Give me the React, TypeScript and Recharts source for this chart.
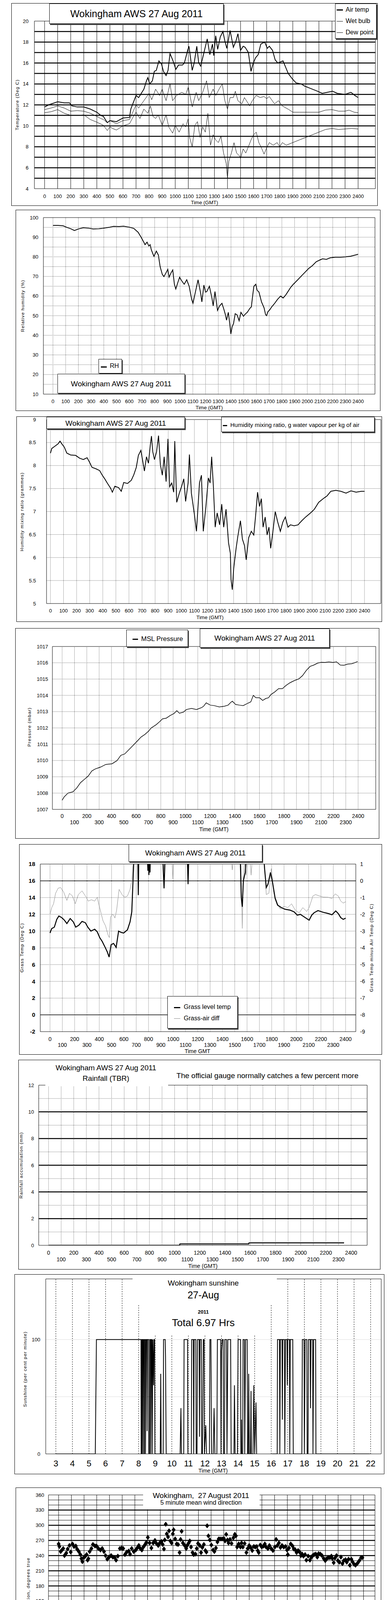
import React from "react";
import { ComposedChart, Line, Scatter, XAxis, YAxis, ReferenceLine } from "recharts";

const NARROW = "'Liberation Sans Narrow', 'Arial Narrow', sans-serif";
const SANS = "'Liberation Sans', Arial, Helvetica, sans-serif";

// ---------- shared ticks / grid values ----------
const hundreds = [0, 100, 200, 300, 400, 500, 600, 700, 800, 900, 1000, 1100, 1200, 1300, 1400, 1500, 1600, 1700, 1800, 1900, 2000, 2100, 2200, 2300, 2400];
const hours24 = [0, 1, 2, 3, 4, 5, 6, 7, 8, 9, 10, 11, 12, 13, 14, 15, 16, 17, 18, 19, 20, 21, 22, 23, 24];
const hours23 = [0, 1, 2, 3, 4, 5, 6, 7, 8, 9, 10, 11, 12, 13, 14, 15, 16, 17, 18, 19, 20, 21, 22, 23];
const sunHours = [3, 4, 5, 6, 7, 8, 9, 10, 11, 12, 13, 14, 15, 16, 17, 18, 19, 20, 21, 22];

const tempTicks = [4, 6, 8, 10, 12, 14, 16, 18, 20];
const tempGrid = [5, 6, 7, 8, 9, 10, 11, 12, 13, 14, 15, 16, 17, 18, 19];
const rhTicks = [10, 20, 30, 40, 50, 60, 70, 80, 90, 100];
const rhGrid = [15, 20, 25, 30, 35, 40, 45, 50, 55, 60, 65, 70, 75, 80, 85, 90, 95];
const mixTicks = [5, 5.5, 6, 6.5, 7, 7.5, 8, 8.5, 9];
const mixGrid = [5.5, 6, 6.5, 7, 7.5, 8, 8.5];
const presTicks = [1007, 1008, 1009, 1010, 1011, 1012, 1013, 1014, 1015, 1016, 1017];
const presGrid = [1008, 1009, 1010, 1011, 1012, 1013, 1014, 1015, 1016];
const grassTicks = [-2, 0, 2, 4, 6, 8, 10, 12, 14, 16, 18];
const grassDotted = [2, 4, 6, 8, 10, 12, 14];
const grassSolid = [0, 16];
const diffTicks = [-9, -8, -7, -6, -5, -4, -3, -2, -1, 0, 1];
const rainTicks = [0, 2, 4, 6, 8, 10, 12];
const rainThick = [2, 4, 6, 8, 10];
const rainDotted = [1, 3, 5, 7, 9, 11];
const sunTicks = [0, 50, 100];
const dirTicks = [0, 30, 60, 90, 120, 150, 180, 210, 240, 270, 300, 330, 360];
const dirThick = [30, 60, 90, 120, 150, 180, 210, 240, 270, 300, 330];
const dirThin = [10, 20, 40, 50, 70, 80, 100, 110, 130, 140, 160, 170, 190, 200, 220, 230, 250, 260, 280, 290, 310, 320, 340, 350];
const speedTicks = [0, 10, 20, 30, 40, 50];
const speedGrid = [5, 10, 15, 20, 25, 30, 35, 40, 45];

// ---------- data (time as hhmm-like hundreds, or hours) ----------
const airTemp = [[0, 11.8], [30, 12.0], [100, 12.3], [150, 12.2], [190, 12.2], [210, 11.9], [250, 11.8], [300, 11.8], [350, 11.6], [400, 11.3], [430, 11.0], [450, 10.9], [480, 10.3], [500, 10.5], [550, 10.4], [600, 10.75], [650, 10.8], [660, 11.6], [700, 12.9], [720, 12.7], [760, 13.5], [780, 14.3], [790, 14.6], [805, 14.0], [825, 14.3], [840, 15.2], [855, 15.3], [875, 16.2], [895, 15.9], [910, 15.2], [930, 14.8], [945, 15.3], [960, 16.9], [980, 16.3], [1005, 15.4], [1025, 15.8], [1055, 15.8], [1070, 16.0], [1095, 17.2], [1105, 17.6], [1130, 15.3], [1145, 16.0], [1165, 17.6], [1180, 16.0], [1195, 15.7], [1220, 17.0], [1245, 18.3], [1265, 16.8], [1285, 17.8], [1295, 16.7], [1310, 18.6], [1325, 17.3], [1345, 18.5], [1365, 19.0], [1380, 18.1], [1395, 17.4], [1420, 19.1], [1445, 17.5], [1465, 18.1], [1480, 18.8], [1500, 17.2], [1520, 17.6], [1535, 17.5], [1560, 17.0], [1580, 15.2], [1595, 15.9], [1615, 16.5], [1635, 16.8], [1655, 17.8], [1685, 18.0], [1705, 17.4], [1720, 17.6], [1745, 17.2], [1765, 16.3], [1785, 16.0], [1825, 16.2], [1865, 15.0], [1895, 14.5], [1925, 14.1], [1965, 14.0], [1990, 13.8], [2030, 13.6], [2090, 13.3], [2125, 13.1], [2165, 13.2], [2205, 13.3], [2240, 13.1], [2300, 13.0], [2345, 13.2], [2375, 12.9], [2400, 12.7]];
const wetBulb = [[0, 11.55], [50, 11.7], [100, 11.9], [150, 11.7], [200, 11.4], [250, 11.45], [300, 11.4], [350, 11.2], [400, 10.9], [430, 10.7], [450, 10.6], [480, 10.3], [500, 10.5], [550, 10.2], [600, 10.5], [650, 10.6], [700, 12.0], [720, 11.7], [760, 12.4], [800, 13.1], [820, 12.5], [850, 13.5], [880, 12.9], [900, 13.5], [930, 12.4], [960, 14.0], [980, 12.4], [1010, 12.9], [1050, 13.2], [1080, 13.0], [1100, 13.7], [1130, 11.8], [1160, 13.2], [1180, 12.4], [1210, 13.2], [1240, 14.3], [1260, 12.7], [1290, 13.5], [1310, 12.9], [1340, 13.6], [1360, 14.0], [1380, 12.4], [1400, 11.6], [1420, 12.7], [1445, 12.7], [1460, 13.3], [1480, 12.4], [1510, 12.1], [1530, 12.7], [1570, 11.9], [1590, 12.4], [1620, 12.9], [1650, 12.7], [1680, 12.8], [1700, 12.6], [1720, 12.8], [1760, 12.1], [1790, 12.4], [1820, 11.9], [1870, 11.55], [1900, 11.3], [1950, 11.3], [2000, 11.3], [2050, 11.3], [2100, 11.3], [2150, 11.5], [2200, 11.55], [2250, 11.4], [2300, 11.4], [2330, 11.5], [2370, 11.3], [2400, 11.25]];
const dewPoint = [[0, 11.25], [50, 11.35], [100, 11.55], [150, 11.2], [200, 11.0], [250, 11.0], [300, 11.05], [350, 10.6], [400, 10.35], [450, 10.05], [480, 9.55], [500, 9.9], [520, 9.75], [550, 9.6], [600, 10.0], [650, 10.2], [680, 10.9], [700, 11.3], [730, 10.7], [760, 11.6], [790, 11.2], [810, 11.9], [830, 10.9], [850, 10.7], [870, 11.05], [900, 10.05], [930, 11.05], [950, 9.9], [980, 9.3], [1000, 10.05], [1030, 9.4], [1060, 10.2], [1080, 9.9], [1100, 10.7], [1110, 8.9], [1130, 8.0], [1150, 10.05], [1170, 10.4], [1190, 8.9], [1210, 9.9], [1230, 9.4], [1250, 11.2], [1270, 8.15], [1290, 9.15], [1310, 8.65], [1330, 8.4], [1350, 9.0], [1370, 7.4], [1390, 6.4], [1400, 5.0], [1410, 6.6], [1430, 7.4], [1450, 8.4], [1470, 7.4], [1490, 7.15], [1500, 6.9], [1520, 7.8], [1540, 7.4], [1560, 8.0], [1580, 8.65], [1600, 9.15], [1620, 9.4], [1640, 8.4], [1660, 7.9], [1680, 7.3], [1700, 7.9], [1720, 8.4], [1750, 8.15], [1780, 8.4], [1800, 8.0], [1820, 8.4], [1850, 8.15], [1900, 8.4], [1950, 8.65], [2000, 8.9], [2050, 9.15], [2100, 9.4], [2150, 9.65], [2200, 9.75], [2250, 9.65], [2300, 9.7], [2350, 9.75], [2400, 9.7]];

const relHum = [[0, 96], [40, 96], [80, 95.8], [110, 95], [140, 94.3], [169, 93.4], [200, 94.2], [238, 94.8], [280, 94.6], [317, 94.2], [360, 94.3], [400, 94.6], [440, 95], [476, 95.5], [520, 95.4], [555, 95.6], [600, 95.1], [635, 94.5], [670, 92.5], [694, 89.9], [714, 87.5], [724, 86.2], [740, 87.5], [754, 85.5], [764, 86.2], [774, 83.5], [794, 80.2], [813, 82.9], [829, 80.9], [843, 74.9], [860, 71], [873, 69.9], [890, 72], [903, 73.6], [913, 69.6], [930, 72], [942, 73.3], [955, 66], [966, 63.6], [980, 66.5], [996, 69.6], [1010, 68], [1032, 66], [1052, 68.3], [1071, 65], [1091, 58.3], [1101, 56.3], [1121, 62.3], [1141, 68.3], [1161, 61.6], [1171, 57], [1187, 65.6], [1200, 62], [1210, 62.3], [1230, 65], [1250, 59], [1260, 55], [1274, 62.3], [1294, 52.7], [1310, 55], [1329, 56.3], [1345, 53], [1355, 50.7], [1365, 47.7], [1379, 51.7], [1390, 46], [1399, 40.7], [1409, 44.4], [1420, 46], [1433, 51], [1448, 50.4], [1464, 47.4], [1478, 51.7], [1498, 49.7], [1515, 51], [1528, 51.7], [1548, 53.7], [1560, 54.5], [1570, 60], [1580, 65], [1595, 66], [1605, 63], [1620, 62], [1640, 57], [1660, 54], [1672, 50.5], [1680, 50], [1690, 52], [1705, 53], [1720, 54.5], [1740, 56], [1766, 58.3], [1790, 60], [1810, 59], [1830, 60.5], [1850, 62.5], [1870, 64.5], [1890, 66], [1925, 68.3], [1950, 70], [1980, 72], [2010, 74], [2040, 75.5], [2070, 77.5], [2093, 78.2], [2120, 79], [2150, 78.7], [2180, 79.5], [2220, 79.8], [2260, 79.8], [2300, 80], [2340, 80.3], [2370, 80.8], [2400, 81.3]];

const mixRatio = [[0, 8.27], [10, 8.37], [29, 8.41], [58, 8.47], [73, 8.53], [87, 8.47], [106, 8.4], [125, 8.27], [154, 8.23], [193, 8.22], [222, 8.16], [251, 8.13], [280, 8.17], [299, 8.07], [318, 7.96], [347, 7.93], [376, 7.89], [396, 7.79], [415, 7.71], [434, 7.62], [459, 7.51], [473, 7.42], [492, 7.55], [521, 7.52], [541, 7.44], [560, 7.63], [589, 7.61], [618, 7.68], [637, 7.8], [656, 7.96], [672, 8.22], [691, 8.33], [705, 8.1], [718, 7.88], [734, 8.19], [749, 8.05], [763, 8.44], [772, 8.64], [782, 8.3], [795, 8.13], [811, 8.3], [826, 8.65], [840, 8.02], [855, 7.79], [869, 8.19], [884, 7.65], [898, 8.58], [911, 7.54], [927, 7.62], [942, 7.42], [950, 8.53], [965, 7.2], [985, 7.4], [1004, 7.56], [1019, 7.71], [1033, 7.22], [1052, 7.62], [1062, 8.24], [1077, 7.4], [1100, 6.94], [1116, 6.57], [1129, 7.16], [1139, 7.62], [1154, 7.79], [1168, 6.57], [1188, 7.11], [1207, 7.73], [1220, 7.62], [1232, 8.19], [1245, 7.56], [1259, 6.66], [1274, 6.97], [1293, 6.71], [1309, 7.16], [1324, 6.66], [1342, 7.05], [1361, 6.32], [1375, 6.09], [1380, 5.52], [1390, 5.3], [1400, 5.75], [1409, 5.97], [1419, 6.2], [1432, 6.46], [1452, 6.8], [1467, 6.4], [1483, 6.26], [1496, 5.95], [1515, 6.43], [1535, 6.57], [1554, 6.49], [1568, 6.91], [1583, 7.42], [1598, 7.11], [1612, 7.28], [1625, 6.66], [1641, 6.88], [1656, 6.49], [1670, 6.66], [1683, 6.2], [1699, 6.54], [1718, 7.0], [1737, 6.77], [1757, 6.57], [1776, 6.77], [1795, 6.88], [1815, 6.66], [1834, 6.71], [1863, 6.69], [1892, 6.71], [1921, 6.8], [1950, 6.88], [1988, 6.97], [2017, 7.05], [2050, 7.2], [2085, 7.28], [2114, 7.34], [2143, 7.44], [2181, 7.46], [2220, 7.44], [2259, 7.4], [2297, 7.45], [2336, 7.42], [2375, 7.44], [2400, 7.44]];

const mslPressure = [[0, 1007.56], [16, 1007.76], [47, 1008.0], [88, 1008.08], [119, 1008.32], [149, 1008.64], [180, 1008.84], [211, 1009.04], [241, 1009.36], [268, 1009.48], [313, 1009.6], [354, 1009.76], [405, 1009.8], [446, 1010.0], [476, 1010.32], [507, 1010.4], [538, 1010.64], [569, 1010.88], [610, 1011.2], [640, 1011.44], [671, 1011.6], [701, 1011.8], [722, 1012.0], [763, 1012.2], [793, 1012.4], [814, 1012.56], [845, 1012.6], [875, 1012.76], [906, 1012.88], [930, 1013.06], [951, 1012.9], [983, 1012.97], [1008, 1013.13], [1049, 1013.2], [1090, 1013.13], [1131, 1013.25], [1147, 1013.33], [1168, 1013.54], [1202, 1013.4], [1233, 1013.37], [1274, 1013.29], [1315, 1013.33], [1346, 1013.4], [1366, 1013.56], [1380, 1013.64], [1407, 1013.44], [1438, 1013.4], [1468, 1013.37], [1499, 1013.49], [1530, 1013.6], [1550, 1014.0], [1571, 1013.85], [1601, 1013.85], [1626, 1013.69], [1652, 1013.81], [1673, 1013.85], [1693, 1014.05], [1724, 1014.21], [1755, 1014.41], [1786, 1014.41], [1816, 1014.61], [1847, 1014.77], [1878, 1014.89], [1919, 1015.01], [1949, 1015.21], [1980, 1015.53], [2011, 1015.78], [2041, 1015.86], [2072, 1015.98], [2102, 1016.03], [2133, 1016.02], [2163, 1016.05], [2194, 1016.02], [2225, 1016.06], [2255, 1015.86], [2286, 1015.85], [2317, 1015.92], [2348, 1015.94], [2378, 1016.02], [2396, 1016.08]];

const grassTemp = [[0, 9.77], [14, 10.3], [35, 10.47], [55, 11.4], [72, 11.8], [96, 11.6], [117, 11.3], [137, 10.9], [164, 11.5], [189, 11.1], [209, 10.47], [234, 10.7], [260, 11.16], [287, 11.0], [307, 10.47], [332, 10.0], [363, 10.23], [383, 9.92], [404, 9.22], [424, 8.76], [445, 8.14], [465, 7.52], [480, 6.9], [496, 8.37], [516, 8.53], [537, 8.06], [557, 10.0], [578, 9.84], [598, 9.77], [629, 10.16], [650, 11.1], [664, 12.3], [676, 16.7], [684, 19.5], [700, 22], [712, 20], [717, 14.3], [722, 20], [740, 23], [780, 24], [790, 19], [795, 17.2], [800, 18.5], [803, 16.7], [807, 18], [812, 17.0], [818, 21], [850, 25], [900, 24], [915, 19], [926, 15.1], [935, 19], [960, 25], [1000, 26], [1050, 25], [1100, 24], [1115, 19], [1121, 15.6], [1127, 19], [1160, 27], [1250, 28], [1350, 27], [1450, 26], [1530, 22], [1545, 18.5], [1553, 14], [1561, 12.9], [1570, 16], [1585, 17], [1600, 20], [1650, 22], [1700, 20], [1735, 19], [1742, 17.5], [1756, 15.2], [1770, 15.6], [1790, 17.0], [1805, 16], [1828, 13.9], [1848, 13.1], [1879, 12.8], [1910, 12.6], [1950, 12.5], [1982, 12.3], [2008, 11.9], [2033, 12.0], [2053, 11.8], [2084, 11.5], [2104, 11.3], [2125, 11.9], [2145, 12.2], [2176, 12.45], [2217, 12.25], [2258, 12.1], [2289, 11.95], [2320, 12.4], [2340, 12.1], [2361, 11.6], [2381, 11.4], [2400, 11.55]];
const grassAirDiff = [[0, -2.0], [14, -1.6], [29, -1.37], [45, -0.75], [66, -0.44], [86, -0.4], [111, -0.67], [137, -1.17], [158, -0.75], [182, -0.9], [205, -1.37], [230, -0.82], [260, -0.6], [287, -0.9], [311, -1.21], [336, -1.13], [363, -1.21], [383, -0.98], [398, -1.45], [414, -1.91], [430, -2.38], [451, -2.69], [471, -3.23], [482, -3.39], [492, -2.14], [512, -1.99], [527, -2.22], [541, -1.75], [561, -0.51], [588, -0.86], [609, -0.98], [629, -0.9], [650, -0.51], [664, 0.03], [676, 1.2], [700, 2.5], [750, 3], [795, 1.5], [803, 0.65], [812, 1.8], [850, 3], [910, 1.5], [922, 0.34], [930, 1.5], [970, 2.5], [990, 1.2], [998, 0.11], [1006, 1.5], [1050, 3], [1110, 1.5], [1121, 0.03], [1130, 1.5], [1200, 4], [1300, 4], [1400, 3], [1470, 1.5], [1480, 0.65], [1490, 1.5], [1530, 2], [1550, 1.2], [1561, -2.84], [1570, 0.2], [1580, 1.2], [1592, 0.34], [1610, 1.5], [1625, 1.2], [1633, 0.34], [1645, 1.5], [1700, 2], [1740, 1.2], [1756, -0.82], [1777, -0.74], [1797, 0.73], [1818, -0.75], [1848, -1.37], [1869, -1.68], [1900, -1.52], [1930, -1.6], [1961, -1.37], [1992, -1.75], [2023, -1.91], [2053, -1.6], [2084, -1.83], [2104, -1.6], [2135, -0.9], [2156, -0.82], [2186, -0.9], [2217, -0.97], [2258, -0.98], [2289, -1.05], [2315, -0.78], [2340, -0.9], [2361, -1.21], [2381, -1.33], [2400, -1.25]];

const rainfall = [[0, 0], [1040, 0], [1042, 0.1], [1588, 0.1], [1590, 0.18], [2344, 0.18]];

const sunshine = [[3, 0], [5.38, 0], [5.45, 100], [8.14, 100], [8.15, 0], [8.18, 0], [8.19, 100], [8.22, 100], [8.23, 0], [8.26, 100], [8.3, 100], [8.31, 0], [8.34, 0], [8.35, 100], [8.4, 100], [8.41, 0], [8.45, 100], [8.5, 100], [8.51, 20], [8.53, 100], [8.6, 100], [8.61, 0], [8.66, 0], [8.67, 100], [8.72, 100], [8.73, 0], [8.77, 100], [8.8, 100], [8.82, 0], [8.85, 100], [8.9, 60], [8.92, 100], [8.96, 100], [8.98, 0], [9.3, 0], [9.33, 70], [9.36, 0], [9.48, 0], [9.5, 100], [9.6, 100], [9.62, 85], [9.66, 0], [10.5, 0], [10.55, 40], [10.58, 0], [10.72, 0], [10.74, 100], [10.95, 100], [10.97, 0], [11.18, 0], [11.2, 100], [11.3, 100], [11.32, 0], [11.35, 100], [11.45, 100], [11.47, 0], [11.52, 0], [11.55, 100], [11.65, 100], [11.67, 15], [11.7, 100], [11.78, 100], [11.8, 0], [11.85, 0], [11.9, 100], [11.95, 100], [11.97, 0], [12.05, 25], [12.1, 0], [12.27, 0], [12.3, 100], [12.36, 100], [12.4, 0], [12.5, 0], [12.55, 40], [12.6, 0], [12.72, 0], [12.75, 100], [12.95, 100], [12.97, 0], [13.0, 90], [13.05, 100], [13.1, 100], [13.12, 0], [13.18, 0], [13.2, 100], [13.3, 100], [13.33, 0], [13.38, 100], [13.55, 100], [13.58, 0], [13.75, 0], [13.78, 60], [13.82, 0], [13.96, 0], [14.0, 100], [14.15, 100], [14.17, 0], [14.2, 30], [14.22, 0], [14.28, 0], [14.3, 100], [14.38, 100], [14.4, 0], [14.45, 100], [14.55, 100], [14.57, 0], [14.62, 0], [14.64, 70], [14.68, 0], [14.75, 0], [14.78, 55], [14.8, 0], [14.9, 0], [14.95, 60], [15.0, 0], [15.08, 45], [15.12, 0], [15.14, null], [16.05, 0], [16.36, 0], [16.38, 100], [16.5, 100], [16.52, 0], [16.55, 100], [16.65, 100], [16.67, 30], [16.7, 100], [16.8, 100], [16.82, 0], [16.86, 100], [16.95, 100], [16.97, 60], [17.0, 100], [17.1, 100], [17.12, 0], [17.15, 100], [17.3, 100], [17.33, 0], [17.85, 0], [17.88, 100], [17.98, 100], [18.0, 0], [18.05, 100], [18.15, 100], [18.17, 0], [18.22, 0], [18.25, 100], [18.35, 100], [18.37, 40], [18.4, 100], [18.5, 100], [18.52, 0], [18.56, 100], [18.68, 100], [18.7, 0], [21.95, 0]];

const windDir = [[0.0, 263], [0.06, 258], [0.16, 248], [0.26, 251], [0.36, 254], [0.46, 240], [0.6, 245], [0.71, 253], [0.85, 260], [0.95, 247], [1.09, 263], [1.21, 258], [1.35, 259], [1.45, 253], [1.59, 248], [1.71, 242], [1.79, 234], [1.87, 228], [1.98, 236], [2.1, 239], [2.2, 242], [2.28, 231], [2.34, 234], [2.44, 248], [2.58, 254], [2.7, 262], [2.86, 259], [2.98, 259], [3.13, 254], [3.29, 251], [3.43, 254], [3.57, 248], [3.69, 240], [3.83, 233], [3.97, 237], [4.13, 240], [4.27, 237], [4.42, 236], [4.52, 231], [4.66, 239], [4.82, 254], [4.96, 255], [5.08, 254], [5.22, 242], [5.36, 247], [5.52, 249], [5.62, 243], [5.75, 254], [5.91, 248], [6.07, 251], [6.21, 256], [6.31, 260], [6.43, 254], [6.55, 251], [6.67, 257], [6.81, 262], [6.9, 266], [7.02, 276], [7.16, 265], [7.3, 255], [7.44, 265], [7.58, 270], [7.7, 264], [7.84, 260], [7.96, 265], [8.1, 268], [8.19, 262], [8.29, 253], [8.35, 271], [8.43, 302], [8.51, 283], [8.61, 277], [8.69, 289], [8.79, 269], [8.89, 265], [8.99, 283], [9.05, 291], [9.17, 273], [9.29, 263], [9.4, 262], [9.52, 246], [9.6, 272], [9.68, 288], [9.78, 265], [9.92, 260], [10.04, 254], [10.12, 260], [10.24, 265], [10.32, 269], [10.42, 257], [10.54, 246], [10.63, 242], [10.77, 243], [10.87, 254], [10.97, 264], [11.11, 260], [11.21, 246], [11.31, 256], [11.43, 262], [11.55, 250], [11.63, 247], [11.69, 299], [11.79, 279], [11.9, 271], [12.02, 261], [12.16, 251], [12.26, 248], [12.38, 255], [12.5, 267], [12.6, 273], [12.72, 273], [12.86, 273], [13.0, 274], [13.1, 269], [13.19, 282], [13.29, 271], [13.37, 265], [13.49, 272], [13.61, 264], [13.75, 275], [13.87, 282], [13.95, 279], [14.05, 257], [14.17, 263], [14.31, 257], [14.4, 265], [14.5, 257], [14.64, 264], [14.78, 246], [14.88, 254], [15.0, 260], [15.14, 255], [15.24, 250], [15.36, 258], [15.48, 257], [15.6, 258], [15.67, 250], [15.75, 246], [15.87, 261], [15.99, 257], [16.13, 259], [16.23, 263], [16.33, 257], [16.47, 254], [16.59, 260], [16.73, 254], [16.87, 250], [17.02, 257], [17.12, 272], [17.22, 260], [17.34, 265], [17.46, 256], [17.58, 260], [17.72, 257], [17.86, 258], [17.98, 251], [18.04, 242], [18.13, 255], [18.27, 263], [18.41, 259], [18.51, 253], [18.61, 252], [18.73, 246], [18.85, 250], [18.97, 247], [19.07, 240], [19.17, 243], [19.27, 239], [19.4, 242], [19.5, 231], [19.64, 239], [19.78, 231], [19.9, 237], [20.0, 240], [20.12, 242], [20.24, 243], [20.36, 237], [20.46, 244], [20.6, 243], [20.73, 240], [20.87, 234], [20.99, 230], [21.11, 234], [21.23, 236], [21.35, 236], [21.47, 239], [21.55, 234], [21.65, 226], [21.75, 235], [21.87, 240], [21.98, 230], [22.1, 227], [22.22, 237], [22.34, 224], [22.44, 230], [22.58, 232], [22.68, 227], [22.82, 233], [22.92, 221], [23.04, 233], [23.13, 228], [23.25, 223], [23.37, 221], [23.53, 225], [23.67, 230], [23.81, 236], [23.91, 236]];

const meanSpeed = [[0, 2.7], [0.19, 3.6], [0.39, 3.7], [0.54, 2.4], [0.77, 3.3], [1.06, 3.8], [1.25, 2.7], [1.54, 3.0], [1.93, 3.3], [2.32, 3.6], [2.61, 4.4], [2.8, 5.5], [2.99, 3.3], [3.28, 3.0], [3.67, 3.3], [3.96, 2.4], [4.25, 3.6], [4.63, 3.4], [5.02, 3.6], [5.31, 4.1], [5.6, 5.8], [5.89, 6.1], [6.18, 5.2], [6.56, 5.2], [6.85, 4.4], [7.05, 3.3], [7.24, 6.1], [7.53, 5.8], [7.82, 6.7], [8.11, 6.9], [8.3, 4.7], [8.49, 5.8], [8.78, 8.1], [9.07, 6.7], [9.36, 6.1], [9.61, 4.1], [9.85, 5.8], [10.14, 7.5], [10.42, 6.7], [10.71, 7.6], [10.97, 6.4], [11.2, 9.2], [11.49, 7.5], [11.78, 8.1], [12.01, 6.1], [12.36, 6.7], [12.64, 8.1], [12.93, 10.0], [13.22, 8.3], [13.51, 7.8], [13.8, 9.8], [14.0, 10.9], [14.29, 7.5], [14.58, 8.3], [14.86, 9.2], [15.15, 10.3], [15.44, 7.5], [15.73, 6.4], [16.02, 5.0], [16.22, 6.1], [16.51, 8.1], [16.76, 10.9], [16.99, 12.0], [17.18, 10.0], [17.41, 9.5], [17.66, 8.9], [17.86, 6.7], [18.05, 4.7], [18.34, 7.5], [18.63, 7.5], [18.92, 6.1], [19.21, 7.5], [19.5, 6.4], [19.79, 5.5], [20.17, 6.1], [20.56, 6.7], [20.95, 6.1], [21.24, 5.1], [21.53, 5.8], [21.81, 5.5], [22.1, 6.1], [22.49, 6.7], [22.78, 5.2], [23.07, 5.5], [23.36, 6.1], [23.59, 6.7], [23.84, 6.4], [24.03, 6.1]];
const gustSpeed = [[0, 5.5], [0.15, 4], [0.3, 7], [0.45, 4], [0.6, 6], [0.75, 3.5], [0.9, 8.5], [1.0, 4.5], [1.15, 6], [1.3, 4], [1.5, 5.5], [1.7, 4], [1.9, 5.5], [2.1, 4.5], [2.3, 6], [2.5, 5], [2.7, 8.5], [2.85, 7], [3.0, 4.5], [3.2, 6], [3.4, 4], [3.55, 5], [3.7, 4], [3.85, 4.5], [4.0, 3.5], [4.15, 6.5], [4.3, 5], [4.45, 6.5], [4.6, 5], [4.8, 6.5], [4.95, 5.5], [5.1, 9], [5.3, 6], [5.5, 8.5], [5.65, 7], [5.8, 10.5], [5.95, 8], [6.1, 9], [6.25, 7], [6.4, 8.5], [6.6, 7.5], [6.75, 9], [6.9, 7], [7.05, 5.5], [7.2, 11], [7.35, 8], [7.55, 11.5], [7.7, 8], [7.85, 11], [8.0, 7.5], [8.2, 11.5], [8.35, 7.5], [8.55, 13.5], [8.7, 9.5], [8.85, 13], [9.0, 9], [9.2, 11.5], [9.35, 8.5], [9.55, 12], [9.7, 7], [9.85, 9], [10.0, 13.5], [10.15, 9], [10.3, 15], [10.45, 10], [10.6, 12], [10.75, 9], [10.9, 11], [11.05, 8.5], [11.2, 15], [11.3, 21], [11.45, 12], [11.6, 14], [11.75, 10], [11.9, 13], [12.05, 8.5], [12.2, 11], [12.4, 10], [12.55, 15], [12.7, 12], [12.85, 18], [13.0, 11], [13.15, 15], [13.35, 10], [13.5, 16], [13.65, 11], [13.8, 19], [13.95, 13], [14.1, 17.5], [14.25, 9], [14.4, 12], [14.55, 10], [14.7, 15], [14.85, 11], [15.0, 18.5], [15.15, 12], [15.25, 16], [15.35, 10], [15.45, 25], [15.55, 12], [15.7, 10], [15.85, 8], [16.0, 6], [16.15, 9], [16.3, 12], [16.45, 17], [16.6, 12], [16.75, 20], [16.85, 15], [17.0, 22], [17.1, 14], [17.2, 20], [17.35, 13], [17.5, 18], [17.65, 12], [17.8, 14], [17.95, 9], [18.05, 6], [18.2, 8], [18.35, 16], [18.5, 9], [18.65, 10], [18.8, 8], [18.95, 12], [19.1, 9], [19.25, 11], [19.4, 8], [19.55, 11], [19.7, 8], [19.85, 10], [20.0, 7.5], [20.15, 12], [20.3, 9], [20.45, 10.5], [20.6, 8], [20.75, 11.5], [20.9, 8.5], [21.05, 10], [21.2, 7], [21.35, 9.5], [21.5, 7.5], [21.65, 10], [21.8, 8], [21.95, 10.5], [22.1, 7], [22.25, 11], [22.4, 8], [22.55, 10], [22.7, 7], [22.85, 9.5], [23.0, 7.5], [23.15, 11.5], [23.3, 8], [23.45, 10], [23.6, 8], [23.75, 11], [23.9, 8], [24.0, 9.5], [24.05, 7.5]];
const lightSpeed = [[0.0, 27.8], [0.04, 30.9], [0.06, 32.6], [0.1, 34.6], [0.14, 36.6], [0.19, 37.4], [0.23, 36], [0.29, 37.8], [0.35, 34.9], [0.39, 31.2], [0.42, 28.7], [0.44, 27.5], [0.48, 25.6], [0.52, 22.7], [0.56, 24.2], [0.6, 25.9], [0.64, 27.5], [0.68, 29.6], [0.73, 32.9], [0.79, 34], [0.83, 35.2], [0.89, 35.7], [0.97, 35.2], [1.02, 36.9], [1.08, 38.6], [1.12, 36.3], [1.16, 34], [1.22, 31.8], [1.25, 28.7], [1.29, 27.3], [1.35, 25.6], [1.39, 24.4], [1.47, 28.1], [1.53, 30.3], [1.58, 31.5], [1.64, 33.7], [1.7, 35.2], [1.76, 33.2], [1.81, 31.8], [1.87, 33.2], [1.93, 31.2], [1.99, 30.6], [2.05, 29.2], [2.1, 30.3], [2.18, 30.9], [2.26, 32.1], [2.34, 31.8], [2.41, 32.9], [2.47, 34], [2.53, 35.2], [2.59, 36.9], [2.63, 38], [2.66, 39.7], [2.99, 38.6], [3.03, 36.9], [3.07, 35.2], [3.09, 32.6], [3.15, 31.2], [3.2, 30], [3.26, 30.9], [3.32, 33.5], [3.38, 35.4], [3.44, 36.9], [3.49, 36], [3.53, 34.6], [3.59, 33.5], [3.65, 31.8], [3.69, 29.8], [3.73, 28.4], [3.76, 26.7], [3.8, 25.6], [3.84, 24.2], [3.88, 23.3], [3.92, 25], [3.96, 27.3], [4.0, 28.7], [4.03, 29.8], [4.07, 31.5], [4.11, 33.2], [4.15, 34.6], [4.21, 35.7], [4.27, 35.2], [4.32, 36.3], [4.38, 35.2], [4.44, 34.3], [4.5, 35.7], [4.56, 33.5], [4.61, 31.8], [4.65, 29.8], [4.71, 32.9], [4.77, 34.6], [4.83, 33.5], [4.88, 34.9], [4.94, 37.4], [4.98, 39.1], [5.25, 39.1], [5.31, 38], [5.35, 36.6], [5.41, 38.6], [6.93, 37.4], [6.97, 35.7], [7.01, 32.9], [7.05, 31.2], [7.08, 34.6], [7.12, 36.9], [9.59, 39.3]];

// ---------- helpers ----------
const pts = (arr: any[]) => arr.map(([x, y]) => ({ x, y }));

// axes are 1px wide/high so they still draw; margins compensate for that pixel
const axisBase = { axisLine: false, tickLine: false, tickSize: 0, tickMargin: 0, allowDataOverflow: true, interval: 0 as const, type: "number" as const };

const tickX = (dy: number, size = 13, fmt?: (v: number) => string, family = NARROW) => (p: any) => (
  <text x={p.x} y={p.y + dy} dy="0.35em" textAnchor="middle" fontFamily={family} fontSize={size} fill="#000">
    {fmt ? fmt(p.payload.value) : p.payload.value}
  </text>
);
const tickX2 = (dy1: number, dy2: number, unit: number, fmt?: (v: number) => string) => (p: any) => {
  const odd = Math.round(p.payload.value / unit) % 2 === 1;
  return (
    <text x={p.x} y={p.y + (odd ? dy2 : dy1)} dy="0.35em" textAnchor="middle" fontFamily={NARROW} fontSize={14} fill="#000">
      {fmt ? fmt(p.payload.value) : p.payload.value}
    </text>
  );
};
const tickYL = (gap: number, size = 13, bold = false, fmt?: (v: number) => string) => (p: any) => (
  <text x={p.x - gap} y={p.y} dy="0.35em" textAnchor="end" fontFamily={NARROW} fontSize={size} fontWeight={bold ? "bold" : "normal"} fill="#000">
    {fmt ? fmt(p.payload.value) : p.payload.value}
  </text>
);
const tickYR = (gap: number, size = 13) => (p: any) => (
  <text x={p.x + gap} y={p.y} dy="0.35em" textAnchor="start" fontFamily={NARROW} fontSize={size} fill="#000">
    {p.payload.value}
  </text>
);

const DOT = { stroke: "#000", strokeWidth: 1, strokeDasharray: "1 2" };
const THIN = { stroke: "#000", strokeWidth: 1 };
const THICK = { stroke: "#000", strokeWidth: 2.5 };

const vLines = (vals: number[], style: any, id = "v") => vals.map((v) => <ReferenceLine key={`${id}${v}`} x={v} {...style} />);
const hLines = (vals: number[], style: any, id = "h", yAxisId: any = 0) => vals.map((v) => <ReferenceLine key={`${id}${v}`} y={v} yAxisId={yAxisId} {...style} />);
const border = (xd: number[], yd: number[], w = 1) => [
  <ReferenceLine key="bx0" x={xd[0]} stroke="#000" strokeWidth={w} />,
  <ReferenceLine key="bx1" x={xd[1]} stroke="#000" strokeWidth={w} />,
  <ReferenceLine key="by0" y={yd[0]} stroke="#000" strokeWidth={w} />,
  <ReferenceLine key="by1" y={yd[1]} stroke="#000" strokeWidth={w} />,
];

function Frame({ l, t, r, b }: any) {
  return <div style={{ position: "absolute", left: l, top: t, width: r - l, height: b - t, border: "1px solid #000", boxSizing: "border-box" }} />;
}
function Plot({ f, p, right = false, children }: any) {
  return (
    <div style={{ position: "absolute", left: f[0], top: f[1] }}>
      <ComposedChart
        width={f[2] - f[0]}
        height={f[3] - f[1]}
        margin={{ left: p[0] - f[0] - 1, top: p[1] - f[1], right: f[2] - p[2] - (right ? 1 : 0), bottom: f[3] - p[3] - 1 }}
      >
        {children}
      </ComposedChart>
    </div>
  );
}
function Box({ l, t, w, h, shadow = true, line = true }: any) {
  return <div style={{ position: "absolute", left: l, top: t, width: w, height: h, background: "#fff", border: line ? "1px solid #000" : "none", boxShadow: shadow ? "2px 3px 0 #444" : "none", boxSizing: "border-box" }} />;
}
function Txt({ x, y, size, children, family = SANS, weight = "normal", anchor = "middle", spacing = 0 }: any) {
  const tx = anchor === "middle" ? "-50%" : anchor === "end" ? "-100%" : "0";
  return (
    <div style={{ position: "absolute", left: x, top: y, transform: `translate(${tx}, -50%)`, fontFamily: family, fontSize: size, fontWeight: weight, lineHeight: 1, whiteSpace: "pre", letterSpacing: spacing, color: "#000" }}>
      {children}
    </div>
  );
}
function VTxt({ x, y, children, size = 11.5 }: any) {
  return (
    <div style={{ position: "absolute", left: x, top: y, transform: "translate(-50%, -50%) rotate(-90deg)", fontFamily: SANS, fontSize: size, letterSpacing: 1.2, lineHeight: 1, whiteSpace: "nowrap", color: "#000" }}>
      {children}
    </div>
  );
}
function Swatch({ x, y, w = 16, h = 3, color = "#000" }: any) {
  return <div style={{ position: "absolute", left: x, top: y - h / 2, width: w, height: h, background: color }} />;
}

const hhmm = (v: number) => `${v < 10 ? "0" : ""}${v}:00`;
const diamond = (fill: string, stroke: string, hw: number, hh: number) => (p: any) => (
  <path d={`M${p.cx},${p.cy - hh}L${p.cx + hw},${p.cy}L${p.cx},${p.cy + hh}L${p.cx - hw},${p.cy}Z`} fill={fill} stroke={stroke} strokeWidth={1} />
);

export default function App() {
  const d1x = [-78, 2532];
  const d2x = [-75, 2532];
  const d3x = [-30, 2525];
  const d4x = [-79, 2543];
  const d5x = [-79, 2483];
  const d6x = [-78, 2527];
  const d7x = [2.39, 22.64];
  const d8x = [-0.8, 24.9];
  const d9x = [-0.73, 24.98];
  return (
    <div style={{ position: "absolute", left: 0, top: 0, width: 1000, height: 5000, background: "#fff", overflow: "hidden" }}>
      {/* ---- 1: temperature ---- */}
      <Frame l={29} t={8} r={966} b={527} />
      <Plot f={[29, 8, 966, 527]} p={[88, 54, 960, 483]}>
        <XAxis {...axisBase} dataKey="x" domain={d1x} ticks={hundreds} height={1} tick={tickX(19)} />
        <YAxis {...axisBase} domain={[4, 20]} ticks={tempTicks} width={1} tick={tickYL(15)} />
        {vLines(hundreds, THIN)}
        {hLines(tempGrid, THICK)}
        {border(d1x, [4, 20])}
        <Line data={pts(dewPoint)} dataKey="y" type="linear" dot={false} stroke="#000" strokeWidth={1} isAnimationActive={false} />
        <Line data={pts(wetBulb)} dataKey="y" type="linear" dot={false} stroke="#000" strokeWidth={1} isAnimationActive={false} />
        <Line data={pts(airTemp)} dataKey="y" type="linear" dot={false} stroke="#000" strokeWidth={2} isAnimationActive={false} />
      </Plot>
      <Box l={126} t={9} w={446} h={52} />
      <Txt x={349} y={35} size={25}>Wokingham AWS 27 Aug 2011</Txt>
      <Box l={857} t={9} w={106} h={90} />
      <Swatch x={861} y={25} w={16} h={3} />
      <Txt x={884} y={25} size={16} anchor="start">Air temp</Txt>
      <Swatch x={861} y={54} w={16} h={1} />
      <Txt x={884} y={54} size={16} anchor="start">Wet bulb</Txt>
      <Swatch x={861} y={83} w={16} h={1} />
      <Txt x={884} y={83} size={16} anchor="start">Dew point</Txt>
      <VTxt x={45} y={268}>Temperature (Deg C)</VTxt>
      <Txt x={523} y={518} size={13} family={NARROW}>Time (GMT)</Txt>

      {/* ---- 2: relative humidity ---- */}
      <Frame l={40} t={537} r={973} b={1052} />
      <Plot f={[40, 537, 973, 1052]} p={[111, 557, 959, 1009]}>
        <XAxis {...axisBase} dataKey="x" domain={d2x} ticks={hundreds} height={1} tick={tickX(18)} />
        <YAxis {...axisBase} domain={[10, 100]} ticks={rhTicks} width={1} tick={tickYL(13)} />
        {vLines(hundreds, DOT)}
        {hLines(rhGrid, DOT)}
        {border(d2x, [10, 100])}
        <Line data={pts(relHum)} dataKey="y" type="linear" dot={false} stroke="#000" strokeWidth={2} isAnimationActive={false} />
      </Plot>
      <Box l={252} t={919} w={60} h={37} />
      <Swatch x={258} y={939} w={15} h={3} />
      <Txt x={281} y={937} size={16} anchor="start">RH</Txt>
      <Box l={147} t={957} w={326} h={50} />
      <Txt x={310} y={982} size={19}>Wokingham AWS 27 Aug 2011</Txt>
      <VTxt x={59} y={783}>Relative humidity (%)</VTxt>
      <Txt x={535} y={1043} size={13} family={NARROW}>Time (GMT)</Txt>

      {/* ---- 3: mixing ratio ---- */}
      <Frame l={42} t={1066} r={977} b={1592} />
      <Plot f={[42, 1066, 977, 1592]} p={[119, 1074, 974, 1545]}>
        <XAxis {...axisBase} dataKey="x" domain={d3x} ticks={hundreds} height={1} tick={tickX(18)} />
        <YAxis {...axisBase} domain={[5, 9]} ticks={mixTicks} width={1} tick={tickYL(27)} />
        {vLines(hundreds, DOT)}
        {hLines(mixGrid, DOT)}
        {border(d3x, [5, 9])}
        <Line data={pts(mixRatio)} dataKey="y" type="linear" dot={false} stroke="#000" strokeWidth={2} isAnimationActive={false} />
      </Plot>
      <Box l={119} t={1067} w={354} h={31} />
      <Txt x={296} y={1083} size={19}>Wokingham AWS 27 Aug 2011</Txt>
      <Box l={566} t={1067} w={392} h={39} />
      <Swatch x={570} y={1089} w={11} h={3} />
      <Txt x={589} y={1087} size={15} anchor="start">Humidity mixing ratio, g water vapour per kg of air</Txt>
      <VTxt x={57} y={1310}>Humidity mixing ratio (grammes)</VTxt>
      <Txt x={537} y={1580} size={13} family={NARROW}>Time (GMT)</Txt>

      {/* ---- 4: pressure ---- */}
      <Frame l={39} t={1608} r={970} b={2147} />
      <Plot f={[39, 1608, 970, 2147]} p={[134, 1655, 961, 2072]}>
        <XAxis {...axisBase} dataKey="x" domain={d4x} ticks={hundreds} height={1} tick={tickX2(17, 33, 100)} />
        <YAxis {...axisBase} domain={[1007, 1017]} ticks={presTicks} width={1} tick={tickYL(11)} />
        {vLines(hundreds, DOT)}
        {hLines(presGrid, DOT)}
        {border(d4x, [1007, 1017])}
        <Line data={pts(mslPressure)} dataKey="y" type="linear" dot={false} stroke="#000" strokeWidth={1.5} isAnimationActive={false} />
      </Plot>
      <Box l={323} t={1612} w={158} h={44} />
      <Swatch x={339} y={1636} w={14} h={3} />
      <Txt x={361} y={1635} size={17} anchor="start">MSL Pressure</Txt>
      <Box l={511} t={1609} w={332} h={49} />
      <Txt x={677} y={1633} size={19}>Wokingham AWS 27 Aug 2011</Txt>
      <VTxt x={76} y={1861}>Pressure (mbar)</VTxt>
      <Txt x={547} y={2123} size={14} family={NARROW}>Time (GMT)</Txt>

      {/* ---- 5: grass temperature ---- */}
      <Frame l={49} t={2161} r={977} b={2700} />
      <Plot f={[49, 2161, 977, 2700]} p={[103, 2212, 910, 2641]} right>
        <XAxis {...axisBase} dataKey="x" domain={d5x} ticks={hundreds} height={1} tick={tickX2(19, 34, 100)} />
        <YAxis {...axisBase} domain={[-2, 18]} ticks={grassTicks} width={1} tick={tickYL(13, 15, true)} />
        <YAxis {...axisBase} yAxisId="r" orientation="right" domain={[-9, 1]} ticks={diffTicks} width={1} tick={tickYR(11, 14)} />
        {vLines(hundreds, DOT)}
        {hLines(grassDotted, DOT)}
        {hLines(grassSolid, { stroke: "#000", strokeWidth: 1.5 }, "s")}
        {border(d5x, [-2, 18])}
        <Line data={pts(grassAirDiff)} yAxisId="r" dataKey="y" type="linear" dot={false} stroke="#888" strokeWidth={1} isAnimationActive={false} />
        <Line data={pts(grassTemp)} dataKey="y" type="linear" dot={false} stroke="#000" strokeWidth={2.5} isAnimationActive={false} />
      </Plot>
      <Box l={329} t={2161} w={342} h={45} />
      <Txt x={500} y={2183} size={19}>Wokingham AWS 27 Aug 2011</Txt>
      <Box l={428} t={2550} w={180} h={83} />
      <Swatch x={445} y={2579} w={16} h={3} />
      <Txt x={470} y={2578} size={16} anchor="start">Grass level temp</Txt>
      <Swatch x={445} y={2607} w={16} h={1} color="#888" />
      <Txt x={470} y={2607} size={16} anchor="start">Grass-air diff</Txt>
      <VTxt x={57} y={2426}>Grass Temp (Deg C)</VTxt>
      <VTxt x={951} y={2426}>Grass Temp minus Air Temp (Deg C)</VTxt>
      <Txt x={505} y={2691} size={14} family={NARROW}>Time GMT</Txt>

      {/* ---- 6: rainfall ---- */}
      <Frame l={47} t={2713} r={973} b={3250} />
      <Plot f={[47, 2713, 973, 3250]} p={[99, 2778, 939, 3188]}>
        <XAxis {...axisBase} dataKey="x" domain={d6x} ticks={hundreds} height={1} tick={tickX2(19, 36, 100)} />
        <YAxis {...axisBase} domain={[0, 12]} ticks={rainTicks} width={1} tick={tickYL(12)} />
        {vLines(hundreds, DOT)}
        {hLines(rainDotted, DOT)}
        {hLines(rainThick, THICK, "t")}
        {border(d6x, [0, 12])}
        <Line data={pts(rainfall)} dataKey="y" type="linear" dot={false} stroke="#000" strokeWidth={2.5} isAnimationActive={false} />
      </Plot>
      <div style={{ position: "absolute", left: 116, top: 2774, width: 314, height: 7, background: "#fff" }} />
      <Txt x={271} y={2733} size={19}>Wokingham AWS 27 Aug 2011</Txt>
      <Txt x={271} y={2760} size={19}>Rainfall (TBR)</Txt>
      <Txt x={684} y={2753} size={19}>The official gauge normally catches a few percent more</Txt>
      <VTxt x={55} y={2983}>Rainfall accumulation (mm)</VTxt>
      <Txt x={519} y={3241} size={14} family={NARROW}>Time (GMT)</Txt>

      {/* ---- 7: sunshine ---- */}
      <Frame l={37} t={3262} r={983} b={3774} />
      <Plot f={[37, 3262, 983, 3774]} p={[117, 3274, 975, 3722]}>
        <XAxis {...axisBase} dataKey="x" domain={d7x} ticks={sunHours} height={1} tick={tickX(24, 22)} />
        <YAxis {...axisBase} domain={[0, 153]} ticks={sunTicks} width={1} tick={tickYL(14, 13, false, (v) => (v === 50 ? "" : String(v)))} />
        {vLines(sunHours, { stroke: "#000", strokeWidth: 1, strokeDasharray: "3 3" })}
        {hLines([50, 100], { stroke: "#999", strokeWidth: 1, strokeDasharray: "1 2" })}
        {border(d7x, [0, 153])}
        <Line data={pts(sunshine)} dataKey="y" type="linear" dot={false} stroke="#000" strokeWidth={2} isAnimationActive={false} />
      </Plot>
      <div style={{ position: "absolute", left: 339, top: 3268, width: 369, height: 71, background: "#fff" }} />
      <div style={{ position: "absolute", left: 357, top: 3339, width: 335, height: 78, background: "#fff" }} />
      <Txt x={520} y={3284} size={19}>Wokingham sunshine</Txt>
      <Txt x={520} y={3315} size={25}>27-Aug</Txt>
      <Txt x={520} y={3358} size={13} weight="bold">2011</Txt>
      <Txt x={520} y={3386} size={26}>Total 6.97 Hrs</Txt>
      <VTxt x={65} y={3505}>Sunshine (per cent per minute)</VTxt>
      <Txt x={545} y={3765} size={14} family={NARROW}>Time (GMT)</Txt>

      {/* ---- 8: wind direction ---- */}
      <Frame l={40} t={3808} r={975} b={4340} />
      <Plot f={[40, 3808, 975, 4340]} p={[124, 3827, 959, 4293]}>
        <XAxis {...axisBase} dataKey="x" domain={d8x} ticks={hours24} height={1} tick={tickX(16)} />
        <YAxis {...axisBase} dataKey="y" domain={[0, 360]} ticks={dirTicks} width={1} tick={tickYL(11)} />
        {vLines(hours24, THIN)}
        {hLines(dirThin, THIN)}
        {hLines(dirThick, THICK, "t")}
        {border(d8x, [0, 360])}
        <Scatter data={pts(windDir)} shape={diamond("#000", "#000", 4.5, 6)} isAnimationActive={false} />
      </Plot>
      <div style={{ position: "absolute", left: 366, top: 3815, width: 298, height: 49, background: "#fff" }} />
      <Txt x={514} y={3828} size={19} family={NARROW}>Wokingham,  27 August 2011</Txt>
      <Txt x={514} y={3847} size={16} family={NARROW}>5 minute mean wind direction</Txt>
      <VTxt x={73} y={4059}>Direction, degrees true</VTxt>
      <Txt x={540} y={4327} size={14} family={NARROW}>Time (GMT)</Txt>

      {/* ---- 9: wind speed ---- */}
      <Frame l={39} t={4348} r={977} b={4866} />
      <Plot f={[39, 4348, 977, 4866]} p={[98, 4393, 957, 4791]}>
        <XAxis {...axisBase} dataKey="x" domain={d9x} ticks={hours23} height={1} tick={tickX2(19, 34, 1, hhmm)} />
        <YAxis {...axisBase} dataKey="y" domain={[0, 50]} ticks={speedTicks} width={1} tick={tickYL(12, 15)} />
        {vLines(hours24, DOT)}
        {hLines(speedGrid, DOT)}
        {border(d9x, [0, 50])}
        <Line data={pts(gustSpeed)} dataKey="y" type="linear" dot={false} stroke="#555" strokeWidth={1} isAnimationActive={false} />
        <Line data={pts(meanSpeed)} dataKey="y" type="linear" dot={false} stroke="#000" strokeWidth={2} isAnimationActive={false} />
        <Scatter data={pts(lightSpeed)} shape={diamond("#bbb", "#444", 5, 6)} isAnimationActive={false} />
      </Plot>
      <div style={{ position: "absolute", left: 104, top: 4389, width: 343, height: 7, background: "#fff" }} />
      <Txt x={273} y={4372} size={18}>Wokingham,  27 August 2011</Txt>
      <Txt x={588} y={4361} size={14}>Wind speed, 10 min mean / max gust</Txt>
      <Txt x={588} y={4379} size={14}>Speeds below 4 kt shown at x10 scale</Txt>
      <Box l={745} t={4355} w={226} h={26} />
      <Swatch x={779} y={4369} w={11} h={3} />
      <Txt x={798} y={4368} size={11} anchor="start">Speed x 1</Txt>
      <div style={{ position: "absolute", left: 868, top: 4364, width: 7, height: 7, background: "#bbb", border: "1px solid #444", transform: "rotate(45deg)" }} />
      <Txt x={885} y={4368} size={11} anchor="start">Speed / 10</Txt>
      <Txt x={969} y={4792} size={12} family={NARROW} weight="bold">0</Txt>
      <VTxt x={53} y={4592}>Speed (knots)</VTxt>
      <Txt x={528} y={4842} size={15} family={NARROW}>Time (GMT)</Txt>
    </div>
  );
}
